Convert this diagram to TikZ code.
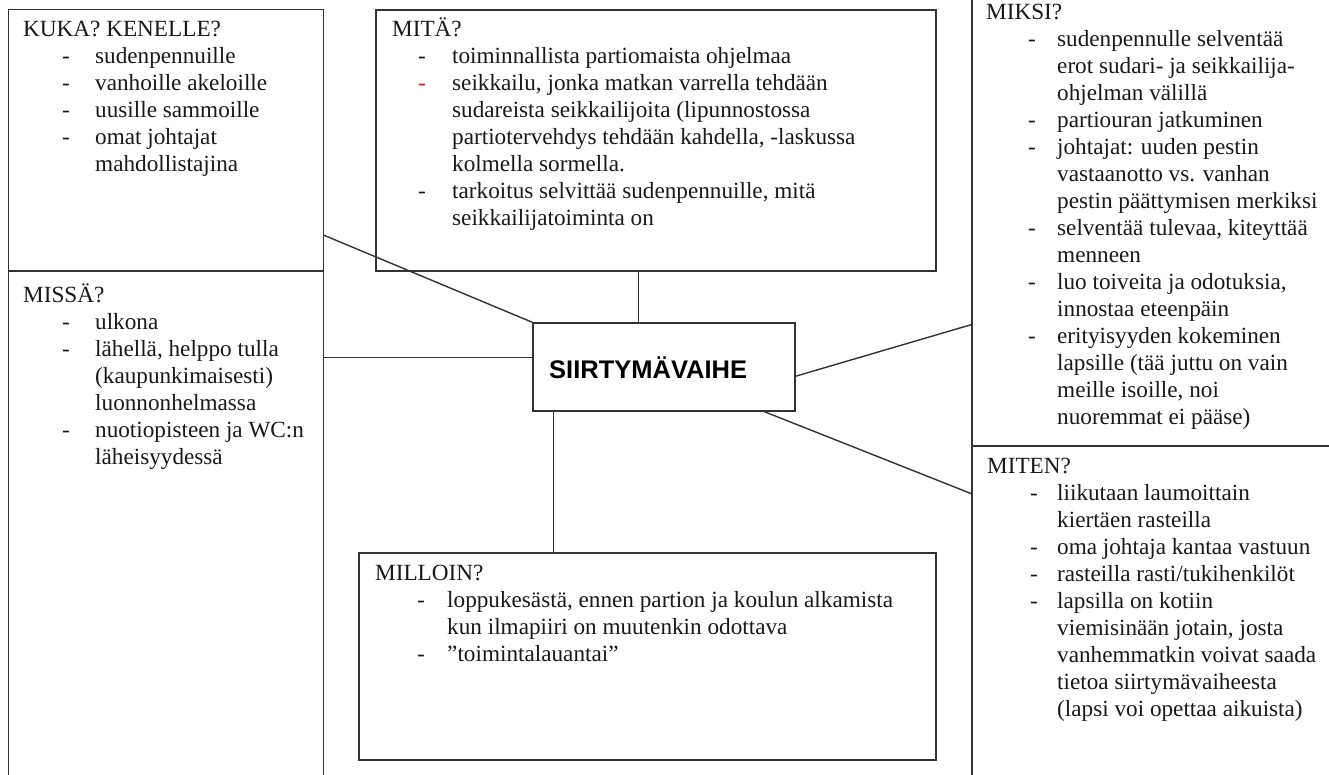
\documentclass[tikz,border=0pt]{standalone}
\usepackage{fontspec}
\setmainfont{Liberation Serif}
\newfontfamily\hubfont{Liberation Sans}
\usepackage{tikz}
\usetikzlibrary{positioning}
\definecolor{dashred}{HTML}{E0101C}
\newlength\dashx
\newlength\textx
\newcommand{\dl}{\hspace*{\dashx}\makebox[\dimexpr\textx-\dashx\relax][l]{-}}
\newcommand{\rdl}{\hspace*{\dashx}\makebox[\dimexpr\textx-\dashx\relax][l]{\textcolor{dashred}{-}}}
\newcommand{\cl}{\hspace*{\textx}}
\tikzset{panel/.style={rectangle,draw=black!80,line width=1.4pt,inner sep=0pt},
  wire/.style={draw=black!80,line width=1.4pt},
  lbl/.style={anchor=base west,inner sep=0pt,font=\fontsize{23.2}{27}\selectfont,text=black!90},
  listind/.style 2 args={execute at begin node={\global\dashx=#1\global\textx=#2}}}

\begin{document}
\begin{tikzpicture}[x=1pt,y=-1pt]
    \useasboundingbox (0,0) rectangle (1329,775);
    \clip (0,0) rectangle (1329,775);

    \node[panel,minimum width=315pt,minimum height=261.7pt] (kuka) at (165.8,140.2) {};
    \node[panel,minimum width=315pt,minimum height=529pt] (missa) at (165.8,535.5) {};
    \node[panel,minimum width=560pt,minimum height=261pt] (mita) at (656,140.5) {};
    \node[panel,minimum width=368pt,minimum height=456pt] (miksi) at (1156,218) {};
    \node[panel,minimum width=368pt,minimum height=354pt] (miten) at (1156,623) {};
    \node[panel,minimum width=577pt,minimum height=207pt] (milloin) at (647.5,656.5) {};
    \node[panel,minimum width=262pt,minimum height=88pt] (mid) at (664,367) {};

    \node[lbl,listind={39pt}{72pt}] (kukatxt) at (23,37) {\begin{tabular}[t]{@{}l@{}}KUKA? KENELLE?\\
      \dl sudenpennuille\\
      \dl vanhoille akeloille\\
      \dl uusille sammoille\\
      \dl omat johtajat\\
      \cl mahdollistajina\end{tabular}};
    \node[lbl,listind={39pt}{72pt}] (missatxt) at (23,302) {\begin{tabular}[t]{@{}l@{}}MISSÄ?\\
      \dl ulkona\\
      \dl lähellä, helppo tulla\\
      \cl (kaupunkimaisesti)\\
      \cl luonnonhelmassa\\
      \dl nuotiopisteen ja WC:n\\
      \cl läheisyydessä\end{tabular}};
    \node[lbl,listind={26pt}{60pt}] (mitatxt) at (392,37) {\begin{tabular}[t]{@{}l@{}}MITÄ?\\
      \dl toiminnallista partiomaista ohjelmaa\\
      \rdl seikkailu, jonka matkan varrella tehdään\\
      \cl sudareista seikkailijoita (lipunnostossa\\
      \cl partiotervehdys tehdään kahdella, -laskussa\\
      \cl kolmella sormella.\\
      \dl tarkoitus selvittää sudenpennuille, mitä\\
      \cl seikkailijatoiminta on\end{tabular}};
    \node[lbl,listind={42pt}{71pt}] (miksitxt) at (986,20) {\begin{tabular}[t]{@{}l@{}}MIKSI?\\
      \dl sudenpennulle selventää\\
      \cl erot sudari- ja seikkailija-\\
      \cl ohjelman välillä\\
      \dl partiouran jatkuminen\\
      \dl johtajat: uuden pestin\\
      \cl vastaanotto vs. vanhan\\
      \cl pestin päättymisen merkiksi\\
      \dl selventää tulevaa, kiteyttää\\
      \cl menneen\\
      \dl luo toiveita ja odotuksia,\\
      \cl innostaa eteenpäin\\
      \dl erityisyyden kokeminen\\
      \cl lapsille (tää juttu on vain\\
      \cl meille isoille, noi\\
      \cl nuoremmat ei pääse)\end{tabular}};
    \node[lbl,listind={43pt}{70pt}] (mitentxt) at (987,473) {\begin{tabular}[t]{@{}l@{}}MITEN?\\
      \dl liikutaan laumoittain\\
      \cl kiertäen rasteilla\\
      \dl oma johtaja kantaa vastuun\\
      \dl rasteilla rasti/tukihenkilöt\\
      \dl lapsilla on kotiin\\
      \cl viemisinään jotain, josta\\
      \cl vanhemmatkin voivat saada\\
      \cl tietoa siirtymävaiheesta\\
      \cl (lapsi voi opettaa aikuista)\end{tabular}};
    \node[lbl,listind={42pt}{72pt}] (millointxt) at (375,580) {\begin{tabular}[t]{@{}l@{}}MILLOIN?\\
      \dl loppukesästä, ennen partion ja koulun alkamista\\
      \cl kun ilmapiiri on muutenkin odottava\\
      \dl ”toimintalauantai”\end{tabular}};

    \node[anchor=base west,inner sep=0pt,font=\hubfont\bfseries\fontsize{25.5}{30}\selectfont] (hub) at (549,378) {SIIRTYMÄVAIHE};

    \draw[wire] (kuka.-31.57) -- (mid.north west);
    \draw[wire] (missa.east |- mid.176.07) -- (mid.176.07);
    \draw[wire] (mita.south -| mid.120.58) -- (mid.120.58);
    \draw[wire] (milloin.north -| mid.-158.73) -- (mid.-158.73);
    \draw[wire] (mid.-4.37) -- (miksi.-150.06);
    \draw[wire] (mid.-24.62) -- (miten.145.81);
\end{tikzpicture}
\end{document}
